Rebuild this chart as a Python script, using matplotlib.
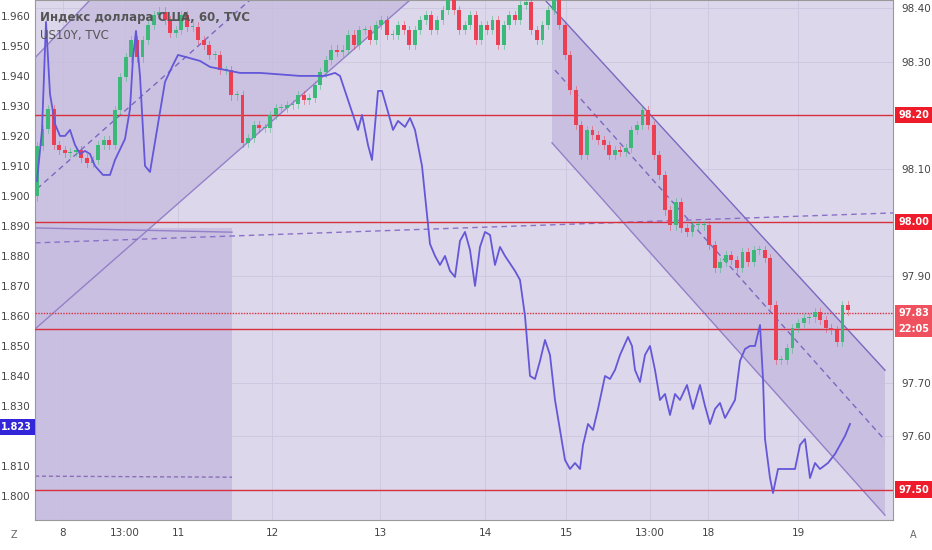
import numpy as np
import matplotlib
matplotlib.use("Agg")
import matplotlib.pyplot as plt
from matplotlib.patches import Polygon, Rectangle

# DXY closes (right scale), hourly bars
dxy_close = [98.142, 98.174, 98.211, 98.144, 98.135, 98.129, 98.131, 98.135, 98.120, 98.110,
             98.116, 98.144, 98.153, 98.144, 98.209, 98.271, 98.308, 98.340, 98.308, 98.340,
             98.368, 98.387, 98.393, 98.378, 98.353, 98.359, 98.387, 98.365, 98.365, 98.340,
             98.331, 98.312, 98.312, 98.284, 98.284, 98.237, 98.237, 98.148, 98.157, 98.181,
             98.176, 98.176, 98.200, 98.213, 98.213, 98.219, 98.221, 98.237, 98.228, 98.232,
             98.256, 98.280, 98.303, 98.322, 98.318, 98.322, 98.350, 98.331, 98.359, 98.359,
             98.340, 98.368, 98.378, 98.350, 98.350, 98.368, 98.359, 98.331, 98.359, 98.378,
             98.387, 98.359, 98.378, 98.396, 98.415, 98.396, 98.359, 98.368, 98.387, 98.340,
             98.368, 98.359, 98.378, 98.331, 98.368, 98.387, 98.378, 98.406, 98.411, 98.359,
             98.340, 98.368, 98.396, 98.415, 98.368, 98.312, 98.247, 98.181, 98.125, 98.172,
             98.163, 98.153, 98.144, 98.125, 98.135, 98.131, 98.138, 98.172, 98.181, 98.209,
             98.181, 98.125, 98.088, 98.022, 97.994, 98.037, 97.989, 97.981, 97.994, 97.994,
             97.994, 97.957, 97.914, 97.925, 97.938, 97.929, 97.914, 97.944, 97.925, 97.948,
             97.948, 97.933, 97.845, 97.742, 97.742, 97.764, 97.802, 97.811, 97.820, 97.822,
             97.832, 97.817, 97.802, 97.798, 97.776, 97.845, 97.835]
dxy_first_open = 98.048

# US10Y (left scale): chart time units and yield
us_t = [2, 7, 11, 15, 20, 25, 30, 35, 40, 45, 50, 55, 60, 68, 75, 80, 90, 95, 98, 101, 105, 110, 115,
        120, 125, 130, 137, 143, 165, 175, 205, 225, 265, 290, 300, 305, 310, 317, 323, 327, 333, 337,
        343, 347, 353, 358, 363, 370, 375, 380, 387, 395, 400, 405, 410, 415, 420, 425, 430, 435, 440,
        445, 450, 455, 460, 465, 470, 480, 485, 490, 495, 500, 505, 510, 515, 520, 525, 530, 535, 540,
        545, 548, 553, 558, 563, 570, 575, 580, 585, 593, 597, 600, 605, 610, 615, 620, 625, 630, 635,
        640, 645, 652, 658, 665, 670, 675, 680, 685, 690, 695, 700, 705, 710, 715, 720, 725, 728, 730,
        735, 738, 743, 750, 760, 765, 770, 775, 780, 785, 793, 800, 805, 810, 815]
us_y = [1.905, 1.922, 1.958, 1.934, 1.924, 1.920, 1.920, 1.922, 1.917, 1.914, 1.915, 1.914, 1.910,
        1.907, 1.907, 1.912, 1.919, 1.929, 1.946, 1.955, 1.940, 1.910, 1.908, 1.918, 1.928, 1.938,
        1.943, 1.947, 1.945, 1.943, 1.941, 1.941, 1.940, 1.940, 1.941, 1.940, 1.935, 1.928, 1.922,
        1.927, 1.917, 1.912, 1.935, 1.935, 1.928, 1.922, 1.925, 1.923, 1.926, 1.922, 1.910, 1.884,
        1.880, 1.877, 1.880, 1.875, 1.873, 1.885, 1.888, 1.882, 1.870, 1.883, 1.888, 1.887, 1.877,
        1.883, 1.880, 1.875, 1.872, 1.860, 1.840, 1.839, 1.845, 1.852, 1.847, 1.832, 1.822, 1.812,
        1.809, 1.811, 1.809, 1.817, 1.824, 1.822, 1.829, 1.840, 1.839, 1.842, 1.847, 1.853, 1.850,
        1.842, 1.838, 1.847, 1.850, 1.842, 1.832, 1.834, 1.827, 1.834, 1.832, 1.837, 1.829, 1.837,
        1.830, 1.824, 1.829, 1.831, 1.826, 1.829, 1.832, 1.845, 1.849, 1.850, 1.850, 1.857, 1.839,
        1.819, 1.806, 1.801, 1.809, 1.809, 1.809, 1.817, 1.819, 1.806, 1.811, 1.809, 1.811, 1.814,
        1.817, 1.820, 1.824]

x_tick_pos = [28, 90, 143, 237, 345, 450, 531, 615, 673, 763]
x_tick_lab = ["8", "13:00", "11", "12", "13", "14", "15", "13:00", "18", "19"]
right_ticks = [98.40, 98.30, 98.10, 97.90, 97.70, 97.60]
left_ticks = [1.960, 1.950, 1.940, 1.930, 1.920, 1.910, 1.900, 1.890, 1.880, 1.870, 1.860, 1.850,
              1.840, 1.830, 1.810, 1.800]
red_levels = [98.20, 98.00, 97.80, 97.50]
red_labels = ["98.20", "98.00", "22:05", "97.50"]
last_price = 97.83
us_last = 1.823

BG = "#dcd7ea"
SHADE = "#c7bde0"
LINE = "#9480c8"
GREEN = "#3cb878"
RED = "#ec3f52"

fig = plt.figure(figsize=(9.32, 5.5), dpi=100)
fig.patch.set_facecolor("white")
ax = fig.add_axes([35 / 932, 30 / 550, 858 / 932, 520 / 550])
ax2 = ax.twinx()
ax.set_facecolor(BG)
ax.set_xlim(0, 858)
ax.set_ylim(97.443, 98.415)
ax.yaxis.tick_right()
ax.set_yticks(right_ticks)
ax.set_yticklabels([f"{v:.2f}" for v in right_ticks], fontsize=7.5, color="#444")
ax.set_xticks(x_tick_pos)
ax.set_xticklabels(x_tick_lab, fontsize=7.5, color="#444")
ax.tick_params(length=0, pad=6)
for s in ax.spines.values():
    s.set_color("#999")
for v in np.arange(97.5, 98.41, 0.1):
    ax.axhline(v, color="#cdc6e0", lw=0.6, zorder=0)
for p in x_tick_pos:
    ax.axvline(p, color="#cdc6e0", lw=0.6, zorder=0)

# drawing tools (in chart time / price units)
ax.add_patch(Polygon([(0, 98.307), (55, 98.415), (375, 98.415), (0, 97.800)], closed=True,
                     facecolor=SHADE, edgecolor="none", alpha=0.8, zorder=1))
ax.plot([0, 375], [97.800, 98.415], color=LINE, lw=1, zorder=2)
ax.plot([0, 55], [98.307, 98.415], color=LINE, lw=1, zorder=2)
ax.plot([2, 215], [98.062, 98.415], color="#7b68c0", lw=1, ls=(0, (4, 3)), zorder=2)
ax.add_patch(Rectangle((0, 97.443), 197, 98.415 - 0.00187 * 228 - 97.443,
                       facecolor=SHADE, edgecolor="none", alpha=0.9, zorder=1))
ax.plot([0, 197], [97.989, 97.981], color=LINE, lw=1, zorder=2)
ax.plot([0, 197], [97.525, 97.523], color="#8a6fb8", lw=1, ls=(0, (3, 2)), zorder=2)
ax.plot([0, 858], [97.961, 98.017], color="#8a70c8", lw=1, ls=(0, (4, 3)), zorder=2)
ax.add_patch(Polygon([(517, 98.401), (850, 97.723), (850, 97.452), (517, 98.148)],
                     closed=True, facecolor=SHADE, edgecolor="none", alpha=0.9, zorder=1))
ax.plot([510, 850], [98.415, 97.723], color="#7b68c0", lw=1, zorder=2)
ax.plot([517, 850], [98.148, 97.452], color=LINE, lw=1, zorder=2)
ax.plot([520, 850], [98.284, 97.592], color="#7b68c0", lw=1, ls=(0, (4, 3)), zorder=2)

for v in red_levels:
    ax.axhline(v, color="#d9303e", lw=1, zorder=3)
ax.axhline(last_price, color="#d9303e", lw=1, ls=(0, (1, 1)), zorder=3)

# candles
n = len(dxy_close)
xs = np.linspace(2, 813, n)
opens = [dxy_first_open] + dxy_close[:-1]
w = (xs[1] - xs[0]) * 0.7
for x, o, c in zip(xs, opens, dxy_close):
    col = GREEN if c >= o else RED
    lo, hi = min(o, c), max(o, c)
    ax.plot([x, x], [lo - 0.008, hi + 0.008], color=col, lw=0.6, alpha=0.6, zorder=4)
    ax.add_patch(Rectangle((x - w / 2, lo), w, max(hi - lo, 0.002), facecolor=col,
                           edgecolor="none", zorder=5))

ax2.set_ylim(1.7920, 1.9653)
ax2.yaxis.tick_left()
ax2.set_yticks(left_ticks)
ax2.set_yticklabels([f"{v:.3f}" for v in left_ticks], fontsize=7.5, color="#444")
ax2.tick_params(length=0, pad=3)
ax2.plot(us_t, us_y, color="#6457d8", lw=1.3, zorder=6)
for s in ax2.spines.values():
    s.set_visible(False)

# price labels
for v, lab in zip(red_levels + [last_price], red_labels + ["97.83"]):
    col = "#f0515f" if lab in ("22:05", "97.83") else "#ee1b2a"
    ax.text(1.006, v, lab, transform=ax.get_yaxis_transform(), fontsize=7,
            color="white", va="center", ha="left", clip_on=False, fontweight="bold",
            bbox=dict(boxstyle="square,pad=0.35", fc=col, ec="none"))
ax2.text(-0.004, us_last, "1.823", transform=ax2.get_yaxis_transform(), fontsize=7,
         color="white", va="center", ha="right", clip_on=False, fontweight="bold",
         bbox=dict(boxstyle="square,pad=0.35", fc="#3326d9", ec="none"))

fig.text(40 / 932, 1 - 17 / 550, "Индекс доллара США, 60, TVC", fontsize=8.5, color="#555",
         va="center", fontweight="bold")
fig.text(40 / 932, 1 - 35 / 550, "US10Y, TVC", fontsize=8.5, color="#555", va="center")
fig.text(14 / 932, 1 - 535 / 550, "Z", fontsize=7, color="#666", ha="center", va="center")
fig.text(913 / 932, 1 - 535 / 550, "A", fontsize=7, color="#666", ha="center", va="center")

fig.savefig("out.png", dpi=100)
